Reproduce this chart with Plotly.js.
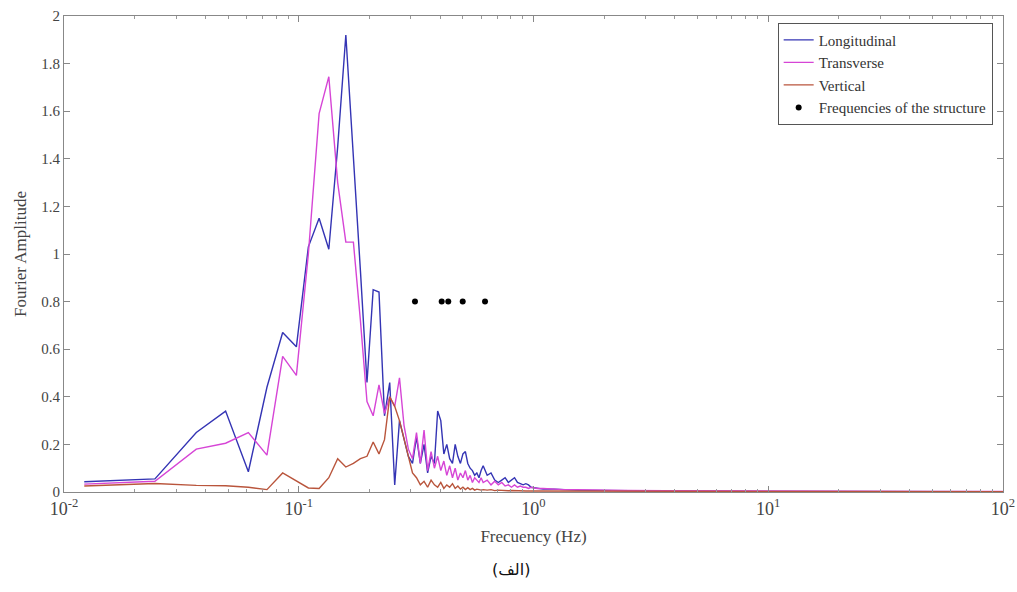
<!DOCTYPE html>
<html>
<head>
<meta charset="utf-8">
<script src="https://cdn.plot.ly/plotly-3.0.1.min.js"></script>
<style>html,body{margin:0;padding:0;background:#fff;}#chart{width:1017px;height:592px;}</style>
</head>
<body>
<div id="chart"></div>
<script>
// Frequency grid (Hz)
const freq = [0.0122,0.0244,0.0366,0.0488,0.0610,0.0732,0.0854,0.0977,0.1099,0.1221,
  0.1343,0.1465,0.1587,0.1709,0.1831,0.1953,0.2075,0.2197,0.2319,0.2441,
  0.2563,0.2686,0.2808,0.2930,0.3052,0.3174,0.3296,0.3418,0.3540,0.3662,
  0.3784,0.3906,0.4028,0.4150,0.4272,0.4395,0.4517,0.4639,0.4761,0.4883,
  0.5005,0.5127,0.5249,0.5371,0.5493,0.5615,0.5737,0.5859,0.5981,0.6104,
  0.6348,0.6592,0.6836,0.7080,0.7324,0.7568,0.7813,0.8057,0.8301,0.8545,
  0.8789,0.9033,0.9277,0.9521,0.9766,1.0376,1.0986,1.2207,1.3428,1.5259,
  1.8311,2.4414,3.6621,6.1035,12.207,24.414,48.828,100];

const longitudinal = [0.043,0.055,0.25,0.34,0.085,0.44,0.67,0.61,1.03,1.15,
  1.02,1.45,1.92,1.42,0.93,0.46,0.85,0.84,0.32,0.46,
  0.03,0.30,0.22,0.15,0.12,0.23,0.12,0.20,0.08,0.15,
  0.12,0.34,0.30,0.16,0.20,0.14,0.12,0.20,0.15,0.12,
  0.16,0.17,0.12,0.10,0.09,0.07,0.08,0.06,0.09,0.11,
  0.07,0.08,0.05,0.04,0.05,0.06,0.04,0.05,0.06,0.04,
  0.035,0.03,0.035,0.03,0.02,0.015,0.012,0.012,0.01,0.008,
  0.007,0.005,0.004,0.003,0.002,0.002,0.001,0.001];

const transverse = [0.033,0.045,0.18,0.205,0.25,0.155,0.57,0.49,1.0,1.59,
  1.745,1.3,1.05,1.05,0.72,0.38,0.32,0.45,0.33,0.40,
  0.36,0.48,0.28,0.18,0.14,0.25,0.12,0.26,0.09,0.17,
  0.10,0.15,0.09,0.13,0.07,0.11,0.06,0.10,0.05,0.08,
  0.06,0.09,0.05,0.07,0.04,0.06,0.05,0.04,0.06,0.04,
  0.05,0.03,0.045,0.03,0.04,0.025,0.03,0.02,0.03,0.02,
  0.025,0.02,0.02,0.015,0.02,0.015,0.015,0.012,0.01,0.01,
  0.008,0.006,0.005,0.004,0.003,0.003,0.002,0.002];

const vertical = [0.025,0.036,0.028,0.026,0.02,0.01,0.08,0.045,0.017,0.015,
  0.06,0.14,0.105,0.12,0.14,0.15,0.21,0.16,0.22,0.40,
  0.36,0.30,0.22,0.15,0.08,0.06,0.03,0.045,0.02,0.05,
  0.03,0.02,0.04,0.015,0.03,0.02,0.035,0.015,0.025,0.012,
  0.02,0.01,0.018,0.01,0.015,0.008,0.012,0.01,0.008,0.01,
  0.008,0.01,0.006,0.008,0.006,0.007,0.005,0.006,0.005,0.005,
  0.004,0.005,0.004,0.004,0.004,0.004,0.003,0.003,0.003,0.002,
  0.002,0.002,0.002,0.002,0.001,0.001,0.001,0.001];

// Structural frequencies (Hz) and plotted level
const structFreq = [0.3127,0.4064,0.4335,0.4994,0.6216];
const structAmp = [0.8,0.8,0.8,0.8,0.8];

const xTicks = [0.01,0.1,1,10,100];
const xTickText = ['10<sup>-2</sup>','10<sup>-1</sup>','10<sup>0</sup>','10<sup>1</sup>','10<sup>2</sup>'];
const yTicks = [0,0.2,0.4,0.6,0.8,1,1.2,1.4,1.6,1.8,2];
const yTickText = ['0','0.2','0.4','0.6','0.8','1','1.2','1.4','1.6','1.8','2'];

const seriesNames = ['Longitudinal','Transverse','Vertical','Frequencies of the structure'];
const xTitle = 'Frecuency (Hz)';
const yTitle = 'Fourier Amplitude';
const caption = '(الف)';

// minor tick positions (2..9 within each decade)
const minorTicks = [];
for (let d = -2; d < 2; d++) {
  for (let m = 2; m <= 9; m++) minorTicks.push(m * Math.pow(10, d));
}

const serif = 'Liberation Serif, Times New Roman, serif';

const traces = [
  {x: freq, y: longitudinal, name: seriesNames[0], type: 'scatter', mode: 'lines',
   line: {color: '#3434b4', width: 1.4}},
  {x: freq, y: transverse, name: seriesNames[1], type: 'scatter', mode: 'lines',
   line: {color: '#d645d6', width: 1.4}},
  {x: freq, y: vertical, name: seriesNames[2], type: 'scatter', mode: 'lines',
   line: {color: '#b9553c', width: 1.4}},
  {x: structFreq, y: structAmp, name: seriesNames[3], type: 'scatter', mode: 'markers',
   marker: {color: '#000', size: 6, symbol: 'circle'}}
];

const layout = {
  width: 1017, height: 592,
  margin: {l: 64, r: 14, t: 16, b: 100},
  paper_bgcolor: '#fff', plot_bgcolor: '#fff',
  font: {family: serif, size: 14, color: '#444'},
  showlegend: true,
  legend: {x: 0.989, y: 0.986, xanchor: 'right', yanchor: 'top',
    bgcolor: '#fff', bordercolor: '#555', borderwidth: 1,
    font: {family: serif, size: 15, color: '#333'},
    tracegroupgap: 0, itemwidth: 30},
  xaxis: {type: 'log', range: [-2, 2], tickmode: 'array', tickvals: xTicks, ticktext: xTickText,
    showgrid: false, zeroline: false, showline: true, linecolor: '#888', linewidth: 1,
    mirror: 'ticks', ticks: 'inside', ticklen: 6, tickcolor: '#888',
    minor: {tickmode: 'array', tickvals: minorTicks, ticks: 'inside', ticklen: 3, tickcolor: '#999', showgrid: false},
    tickfont: {family: serif, size: 18, color: '#444'},
    title: {text: xTitle, font: {family: serif, size: 17, color: '#444'}, standoff: 12}},
  yaxis: {range: [0, 2], tickmode: 'array', tickvals: yTicks, ticktext: yTickText,
    showgrid: false, zeroline: false, showline: true, linecolor: '#888', linewidth: 1,
    mirror: 'ticks', ticks: 'inside', ticklen: 6, tickcolor: '#888',
    tickfont: {family: serif, size: 15, color: '#444'},
    title: {text: yTitle, font: {family: serif, size: 17, color: '#444'}, standoff: 10}},
  annotations: [{text: caption, xref: 'paper', yref: 'paper', x: 0.476, y: -0.162,
    xanchor: 'center', yanchor: 'middle', showarrow: false,
    font: {family: 'DejaVu Sans, Noto Sans, sans-serif', size: 16, color: '#111'}}]
};

Plotly.newPlot('chart', traces, layout, {displayModeBar: false, staticPlot: true});
</script>
</body>
</html>
